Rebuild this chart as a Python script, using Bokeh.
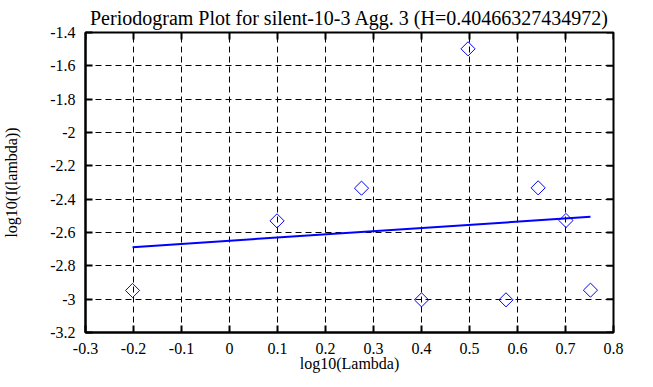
import numpy as np
from bokeh.plotting import figure
from bokeh.models import FixedTicker, Range1d
from bokeh.embed import file_html
from bokeh.resources import INLINE

# Data
log_lambda = [-0.202, 0.099, 0.275, 0.400, 0.497, 0.576, 0.643, 0.701, 0.752]
log_I = [-2.948, -2.530, -2.334, -3.004, -1.498, -3.004, -2.332, -2.528, -2.946]
fit_x = [-0.202, 0.752]
fit_y = [-2.688, -2.506]

x_ticks = [-0.3, -0.2, -0.1, 0.0, 0.1, 0.2, 0.3, 0.4, 0.5, 0.6, 0.7, 0.8]
x_tick_labels = ["-0.3", "-0.2", "-0.1", "0", "0.1", "0.2", "0.3", "0.4", "0.5", "0.6", "0.7", "0.8"]
y_ticks = [-3.2, -3.0, -2.8, -2.6, -2.4, -2.2, -2.0, -1.8, -1.6, -1.4]
y_tick_labels = ["-3.2", "-3", "-2.8", "-2.6", "-2.4", "-2.2", "-2", "-1.8", "-1.6", "-1.4"]

title = "Periodogram Plot for silent-10-3 Agg. 3 (H=0.40466327434972)"
x_label = "log10(Lambda)"
y_label = "log10(I(lambda))"

FONT = "Liberation Serif"

p = figure(frame_width=528, frame_height=300,
           x_range=Range1d(x_ticks[0], x_ticks[-1]),
           y_range=Range1d(y_ticks[0], y_ticks[-1]),
           output_backend="svg", toolbar_location=None,
           min_border_left=82, min_border_right=35,
           min_border_top=31, min_border_bottom=48,
           title=title)
p.background_fill_color = "white"
p.border_fill_color = "white"
p.outline_line_color = "black"
p.outline_line_width = 2

p.title.text_font = FONT
p.title.text_font_size = "20px"
p.title.text_font_style = "normal"
p.title.text_color = "black"
p.title.align = "center"
p.title.standoff = 8
p.title.offset = 0

# grids
for g, ticks in ((p.xgrid, x_ticks), (p.ygrid, y_ticks)):
    g.ticker = FixedTicker(ticks=ticks)
    g.grid_line_color = "black"
    g.grid_line_dash = "6 4"
    g.grid_line_width = 1

def style_axis(ax, ticks, labels):
    ax.ticker = FixedTicker(ticks=ticks)
    ax.major_label_overrides = {t: l for t, l in zip(ticks, labels)}
    ax.axis_line_color = "black"
    ax.axis_line_width = 2
    ax.major_tick_line_color = "black"
    ax.major_tick_line_width = 2
    ax.major_tick_in = 7
    ax.major_tick_out = 0
    ax.minor_tick_line_color = None
    ax.major_label_text_font = FONT
    ax.major_label_text_color = "black"
    ax.major_label_text_font_size = "16px"
    ax.major_label_standoff = 10
    ax.axis_label_text_font = FONT
    ax.axis_label_text_font_size = "16px"
    ax.axis_label_text_font_style = "normal"
    ax.axis_label_text_color = "black"

xa = p.xaxis[0]
ya = p.yaxis[0]
style_axis(xa, x_ticks, x_tick_labels)
style_axis(ya, y_ticks, y_tick_labels)
xa.axis_label = x_label
xa.axis_label_standoff = -2
ya.axis_label = y_label
ya.axis_label_standoff = 27

# inward ticks on the top and right edges of the frame (half of each dash is clipped)
p.scatter(x_ticks, [y_ticks[-1]] * len(x_ticks), marker="dash", angle=np.pi / 2,
          size=14, line_color="black", line_width=2)
p.scatter([x_ticks[-1]] * len(y_ticks), y_ticks, marker="dash",
          size=14, line_color="black", line_width=2)

p.line(fit_x, fit_y, line_color="blue", line_width=2)
p.scatter(log_lambda, log_I, marker="square", angle=np.pi / 4, size=10,
          fill_color=None, line_color="blue", line_width=1)

open("out.html", "w").write(file_html(p, INLINE))
